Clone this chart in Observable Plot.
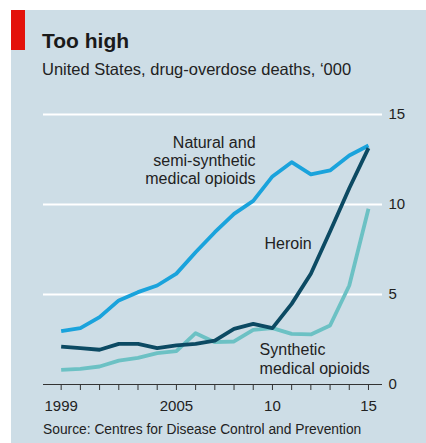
<!DOCTYPE html>
<html>
<head>
<meta charset="utf-8">
<script src="https://cdn.jsdelivr.net/npm/d3@7"></script>
<script src="https://cdn.jsdelivr.net/npm/@observablehq/plot@0.6"></script>
<style>
  html, body { margin: 0; padding: 0; background: #fff; }
  body { width: 426px; height: 443px; position: relative; overflow: hidden; font-family: "Liberation Sans", Arial, sans-serif; }
  #bg { position: absolute; left: 11px; top: 10px; width: 415px; height: 433px; background: #cddde6; }
  #red { position: absolute; left: 11px; top: 10px; width: 14px; height: 40px; background: #e3120b; }
  #title { position: absolute; left: 42px; top: 30px; font-size: 21px; line-height: 21px; font-weight: bold; color: #1a1a1a; white-space: nowrap; }
  #subtitle { position: absolute; left: 42px; top: 61px; font-size: 16.5px; line-height: 16.5px; color: #222; white-space: nowrap; }
  #chart { position: absolute; left: 0; top: 100px; }
  #source { position: absolute; left: 43px; top: 423px; font-size: 13.8px; line-height: 13.8px; color: #222; white-space: nowrap; }
</style>
</head>
<body>
<div id="bg"></div>
<div id="red"></div>
<div id="title">Too high</div>
<div id="subtitle">United States, drug-overdose deaths, ‘000</div>
<div id="chart"></div>
<div id="source">Source: Centres for Disease Control and Prevention</div>
<script>
const years = [1999,2000,2001,2002,2003,2004,2005,2006,2007,2008,2009,2010,2011,2012,2013,2014,2015];
const natural = [2.96,3.13,3.74,4.67,5.13,5.5,6.16,7.35,8.46,9.48,10.2,11.56,12.35,11.67,11.89,12.72,13.28];
const heroin = [2.11,2.02,1.93,2.26,2.26,2.02,2.17,2.26,2.44,3.09,3.37,3.13,4.48,6.15,8.5,10.9,13.13];
const synthetic = [0.81,0.87,1.0,1.33,1.48,1.74,1.85,2.85,2.35,2.39,3.04,3.13,2.81,2.78,3.28,5.5,9.76];
const xTickLabels = {1999: "1999", 2005: "2005", 2010: "10", 2015: "15"};
const yTicks = [0, 5, 10, 15];

const series = [
  {name: "Synthetic medical opioids", values: synthetic, color: "#6cc1c4"},
  {name: "Natural and semi-synthetic medical opioids", values: natural, color: "#1aa3dc"},
  {name: "Heroin", values: heroin, color: "#0c4a63"}
];
const rows = series.flatMap(s => years.map((yr, i) => ({series: s.name, year: yr, value: s.values[i]})));

const labels = [
  {text: "Natural and\nsemi-synthetic\nmedical opioids", x: 2009.12, y: 12.45, anchor: "end", lh: 1.14},
  {text: "Heroin", x: 2009.59, y: 7.84, anchor: "start", lh: 1.1},
  {text: "Synthetic\nmedical opioids", x: 2009.33, y: 1.43, anchor: "start", lh: 1.17}
];

const chart = Plot.plot({
  width: 426,
  height: 320,
  marginTop: 14,
  marginBottom: 36,
  marginLeft: 43,
  marginRight: 44,
  style: {background: "transparent", fontFamily: "'Liberation Sans', Arial, sans-serif", color: "#222"},
  x: {domain: [1998.08, 2015.73]},
  y: {domain: [0, 15]},
  color: {domain: series.map(s => s.name), range: series.map(s => s.color)},
  marks: [
    Plot.ruleY([5, 10, 15], {stroke: "#fff", strokeWidth: 2}),
    Plot.axisY({anchor: "right", ticks: yTicks, tickSize: 0, tickPadding: 6, fontSize: 15, label: null, textAnchor: "start"}),
    Plot.axisX({ticks: years, tickSize: 6, tickPadding: 10, fontSize: 15, label: null, stroke: "#333",
      tickFormat: d => xTickLabels[d] ?? ""}),
    Plot.ruleY([0], {stroke: "#333", strokeWidth: 1}),
    Plot.line(rows, {x: "year", y: "value", z: "series", stroke: "series", strokeWidth: 3.8, strokeLinejoin: "round", strokeLinecap: "butt"}),
    ...labels.map(l => Plot.text([l], {x: "x", y: "y", text: "text", textAnchor: l.anchor, lineHeight: l.lh, fontSize: 16, fill: "#222"}))
  ]
});
document.getElementById("chart").appendChild(chart);
</script>
</body>
</html>
